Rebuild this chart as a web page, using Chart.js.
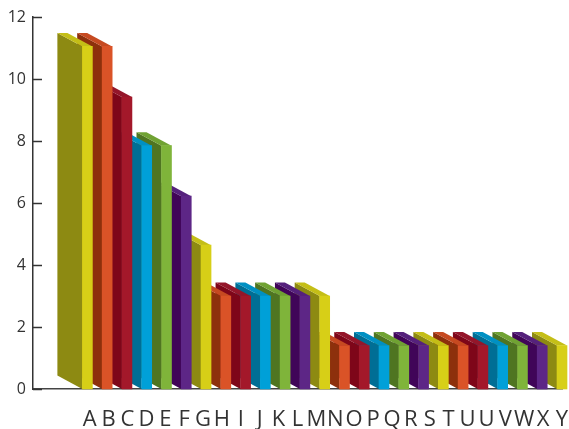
<!DOCTYPE html>
<html><head><meta charset="utf-8">
<script src="https://cdn.jsdelivr.net/npm/chart.js@4/dist/chart.umd.min.js"></script>
<style>html,body{margin:0;padding:0;background:#fff}#wrap{width:569px;height:429px;position:relative}</style>
</head><body><div id="wrap"><canvas id="c"></canvas></div>
<script>
const tickLabels = ['A','B','C','D','E','F','G','H','I','J','K','L','M','N','O','P','Q','R','S','T','U','U','V','W','X','Y'];
const barValues = [11.05, 11.05, 9.42, 7.85, 7.85, 6.22, 4.64, 3.0, 3.0, 3.0, 3.0, 3.0, 3.0,
                   1.4, 1.4, 1.4, 1.4, 1.4, 1.4, 1.4, 1.4, 1.4, 1.4, 1.4, 1.4];
const yTicks = [0, 2, 4, 6, 8, 10, 12];

const frontColors = ['#d7cf17','#da5327','#a3182a','#00a0d8','#7fb43a','#5d2686'];
const sideColors  = ['#8d8a12','#8d300c','#7e0619','#006e95','#4f7521','#400558'];
const topColors   = ['#c4be17','#c64a21','#94162a','#0090c3','#70a233','#55217c'];

const bar3d = {
  id: 'bar3d',
  beforeDatasetsDraw(chart) {
    const meta = chart.getDatasetMeta(0);
    const ctx = chart.ctx;
    const dx = 25, dy = 13.5;
    ctx.save();
    for (let i = meta.data.length - 1; i >= 0; i--) {
      const p = meta.data[i].getProps(['x','y','base','width'], true);
      const L = p.x - p.width/2, R = p.x + p.width/2;
      const c = i % 6;
      ctx.fillStyle = sideColors[c];
      ctx.beginPath();
      ctx.moveTo(L, p.base); ctx.lineTo(L, p.y); ctx.lineTo(L-dx, p.y-dy); ctx.lineTo(L-dx, p.base-dy);
      ctx.closePath(); ctx.fill();
      ctx.fillStyle = topColors[c];
      ctx.beginPath();
      ctx.moveTo(L, p.y); ctx.lineTo(R, p.y); ctx.lineTo(R-dx, p.y-dy); ctx.lineTo(L-dx, p.y-dy);
      ctx.closePath(); ctx.fill();
    }
    const ys = chart.scales.y;
    ctx.strokeStyle = '#333';
    ctx.lineWidth = 1.5;
    ys.ticks.forEach(t => {
      const yy = Math.round(ys.getPixelForValue(t.value)) + 0.5;
      ctx.beginPath(); ctx.moveTo(chart.chartArea.left, yy); ctx.lineTo(chart.chartArea.left + 9, yy); ctx.stroke();
    });
    ctx.restore();
  }
};

new Chart(document.getElementById('c'), {
  type: 'bar',
  data: {
    datasets: [{
      data: barValues.map((v, i) => ({x: i, y: v})),
      backgroundColor: barValues.map((v, i) => frontColors[i % 6]),
      barThickness: 10,
      clip: false,
      xAxisID: 'xb',
      yAxisID: 'y'
    }]
  },
  options: {
    responsive: true,
    maintainAspectRatio: false,
    animation: false,
    devicePixelRatio: 1,
    layout: { padding: { top: 17, right: 7, left: 0, bottom: 0 } },
    plugins: { legend: { display: false }, tooltip: { enabled: false } },
    scales: {
      x: {
        type: 'linear', position: 'bottom', min: -3, max: 25, offset: false,
        grid: { display: false, offset: false, drawTicks: false },
        border: { display: true, color: '#444', width: 1.5 },
        ticks: {
          stepSize: 1, autoSkip: false, maxRotation: 0, minRotation: 0, maxTicksLimit: 100,
          padding: 18, color: '#333',
          font: { family: 'Open Sans', size: 22 },
          callback: v => (v >= 0 && v < tickLabels.length) ? tickLabels[v] : ''
        },
        afterFit: s => { s.height = 40; s.paddingLeft = 0; s.paddingRight = 0; }
      },
      xb: {
        type: 'linear', display: false, min: -2.75, max: 24, offset: false,
        grid: { offset: false }
      },
      y: {
        min: 0, max: 12,
        grid: { display: false, drawTicks: false },
        border: { display: true, color: '#333', width: 1.5 },
        ticks: {
          stepSize: 2, padding: 7, color: '#333',
          font: { family: 'Open Sans', size: 16 },
          callback: v => yTicks.includes(v) ? String(v) : ''
        },
        afterFit: s => { s.width = 33; s.paddingTop = 0; s.paddingBottom = 0; }
      }
    }
  },
  plugins: [bar3d]
});
</script>
</body></html>
